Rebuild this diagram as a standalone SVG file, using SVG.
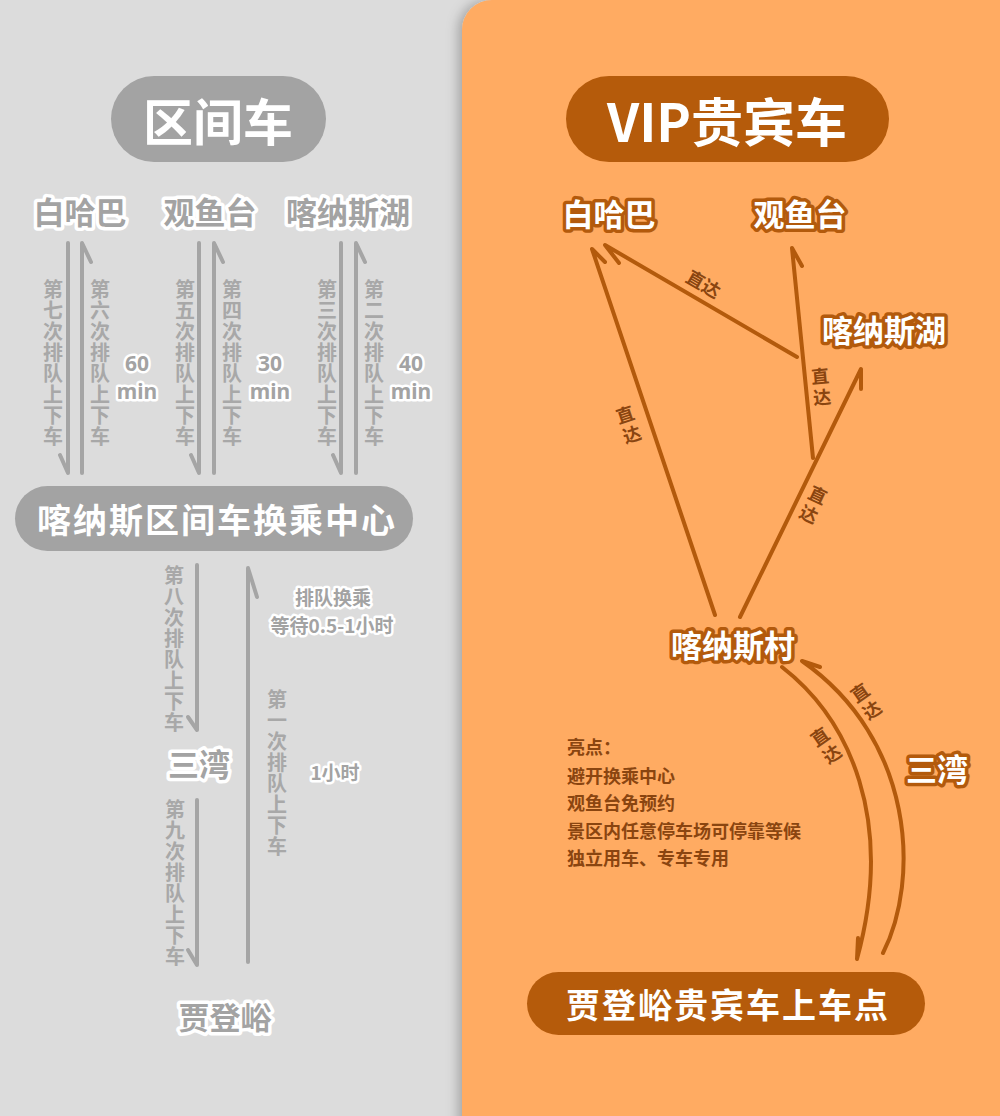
<svg xmlns="http://www.w3.org/2000/svg" width="1000" height="1116" viewBox="0 0 1000 1116">
<defs>
<style>
text{font-family:"Noto Sans CJK SC","Noto Sans",sans-serif;font-weight:bold;}
.gnode{fill:#a3a3a3;stroke:#ffffff;stroke-width:7;paint-order:stroke;stroke-linejoin:round;font-size:31px;text-anchor:middle;dominant-baseline:central;}
.gsmall{fill:#a3a3a3;stroke:#ffffff;stroke-width:5;paint-order:stroke;stroke-linejoin:round;font-size:19px;text-anchor:middle;dominant-baseline:central;}
.gmin{fill:#a3a3a3;stroke:#ffffff;stroke-width:5;paint-order:stroke;stroke-linejoin:round;font-size:21px;text-anchor:middle;dominant-baseline:central;font-family:"Noto Sans","Noto Sans CJK SC",sans-serif;}
.gvert{fill:#a8a8a8;font-size:20px;text-anchor:middle;dominant-baseline:central;}
.onode{fill:#ffffff;stroke:#b35a0c;stroke-width:7;paint-order:stroke;stroke-linejoin:round;font-size:31px;text-anchor:middle;dominant-baseline:central;}
.olab{fill:#8a4510;font-size:18px;text-anchor:middle;dominant-baseline:central;}
.hl{fill:#8a4510;font-size:18px;dominant-baseline:central;}
.pilltxt{fill:#ffffff;text-anchor:middle;dominant-baseline:central;}
.gline{stroke:#a5a5a5;stroke-width:4;fill:none;stroke-linecap:round;stroke-linejoin:round;}
.oline{stroke:#b35a0c;stroke-width:4;fill:none;stroke-linecap:round;stroke-linejoin:round;}
</style>
<filter id="sh" x="-20%" y="-20%" width="140%" height="140%">
<feDropShadow dx="-4" dy="0" stdDeviation="6" flood-color="#000000" flood-opacity="0.25"/>
</filter>
</defs>
<rect x="0" y="0" width="1000" height="1116" fill="#dcdcdc"/>
<rect x="462" y="0" width="600" height="1160" rx="30" fill="#ffab62" filter="url(#sh)"/>

<g id="title-left">
<rect x="111" y="76" width="215" height="86" rx="43" fill="#a3a3a3"/>
<text class="pilltxt" x="218" y="119" font-size="50">区间车</text>
</g>
<g id="title-right">
<rect x="566" y="76" width="323" height="86" rx="43" fill="#b55b0b"/>
<text class="pilltxt" x="727" y="119" font-size="52">VIP贵宾车</text>
</g>

<g id="connectors">
<g id="left-connectors">
<path class="gline" d="M68,243 V473 L60,455"/>
<path class="gline" d="M82,473 V243 L91,262"/>
<path class="gline" d="M199,243 V473 L191,455"/>
<path class="gline" d="M214,473 V243 L223,262"/>
<path class="gline" d="M341,243 V473 L333,455"/>
<path class="gline" d="M356,473 V243 L365,262"/>
<path class="gline" d="M197,565 V730 L188,717"/>
<path class="gline" d="M248,962 V568 L257,597"/>
<path class="gline" d="M197,800 V965 L188,950"/>
</g>
<g id="right-connectors">
<path class="oline" d="M715,615 L592,249 L605,262"/>
<path class="oline" d="M797,357 L605,245 L619,263"/>
<path class="oline" d="M813,458 L792,248 L802,266"/>
<path class="oline" d="M740,617 L861,369 L861,389"/>
<path class="oline" d="M782,667 C850,720 895,820 857,959 L858,938"/>
<path class="oline" d="M883,953 C920,880 915,740 802,661 L820,667"/>
</g>
</g>

<g id="left-labels">
<text class="gvert" x="53 53 53 53 53 53 53 53" y="288 309 330 351 372 393 414 435">第七次排队上下车</text>
<text class="gvert" x="100 100 100 100 100 100 100 100" y="288 309 330 351 372 393 414 435">第六次排队上下车</text>
<text class="gvert" x="185 185 185 185 185 185 185 185" y="288 309 330 351 372 393 414 435">第五次排队上下车</text>
<text class="gvert" x="232 232 232 232 232 232 232 232" y="288 309 330 351 372 393 414 435">第四次排队上下车</text>
<text class="gvert" x="327 327 327 327 327 327 327 327" y="288 309 330 351 372 393 414 435">第三次排队上下车</text>
<text class="gvert" x="374 374 374 374 374 374 374 374" y="288 309 330 351 372 393 414 435">第二次排队上下车</text>
<text class="gvert" x="174 174 174 174 174 174 174 174" y="574 595 616 637 658 679 700 721">第八次排队上下车</text>
<text class="gvert" x="277 277 277 277 277 277 277 277" y="698 719 740 761 782 803 824 845">第一次排队上下车</text>
<text class="gvert" x="175 175 175 175 175 175 175 175" y="808 829 850 871 892 913 934 955">第九次排队上下车</text>
<text class="gmin" x="137" y="363">60</text>
<text class="gmin" x="137" y="391">min</text>
<text class="gmin" x="270" y="363">30</text>
<text class="gmin" x="270" y="391">min</text>
<text class="gmin" x="411" y="363">40</text>
<text class="gmin" x="411" y="391">min</text>
<text class="gsmall" x="333" y="596">排队换乘</text>
<text class="gsmall" x="332" y="624">等待0.5-1小时</text>
<text class="gsmall" x="335" y="771">1小时</text>
</g>

<g id="node-baihaba-l"><text class="gnode" x="80" y="210">白哈巴</text></g>
<g id="node-guanyutai-l"><text class="gnode" x="210" y="210">观鱼台</text></g>
<g id="node-kanashu-l"><text class="gnode" x="348" y="210">喀纳斯湖</text></g>
<g id="node-center">
<rect x="15" y="486" width="398" height="65" rx="32.5" fill="#a3a3a3"/>
<text class="pilltxt" x="217" y="518" font-size="34" letter-spacing="2">喀纳斯区间车换乘中心</text>
</g>
<g id="node-sanwan-l"><text class="gnode" x="199" y="762">三湾</text></g>
<g id="node-jiadengyu-l"><text class="gnode" x="225" y="1015" font-size="30">贾登峪</text></g>

<g id="node-baihaba-r"><text class="onode" x="609" y="212">白哈巴</text></g>
<g id="node-guanyutai-r"><text class="onode" x="800" y="212">观鱼台</text></g>
<g id="node-kanashu-r"><text class="onode" x="884" y="328">喀纳斯湖</text></g>
<g id="node-kanascun"><text class="onode" x="733" y="643">喀纳斯村</text></g>
<g id="node-sanwan-r"><text class="onode" x="937" y="767" font-size="32">三湾</text></g>
<g id="node-jiadengyu-r">
<rect x="527" y="972" width="398" height="63" rx="31.5" fill="#b55b0b"/>
<text class="pilltxt" x="728" y="1003" font-size="34" letter-spacing="2">贾登峪贵宾车上车点</text>
</g>

<g id="right-labels">
<text class="olab" transform="translate(628,423) rotate(-18.5)" x="0 0" y="-10 11">直达</text>
<text class="olab" transform="translate(704,283) rotate(30)" x="0" y="0">直达</text>
<text class="olab" transform="translate(821,385) rotate(-5)" x="0 0" y="-10 11">直达</text>
<text class="olab" transform="translate(814,503) rotate(25)" x="0 0" y="-10 11">直达</text>
<text class="olab" transform="translate(825,744) rotate(-35)" x="0 0" y="-10 11">直达</text>
<text class="olab" transform="translate(865,700) rotate(-35)" x="0 0" y="-10 11">直达</text>
</g>

<g id="highlights">
<text class="hl" x="567" y="746" font-size="19">亮点：</text>
<text class="hl" x="567" y="775">避开换乘中心</text>
<text class="hl" x="567" y="802">观鱼台免预约</text>
<text class="hl" x="567" y="830">景区内任意停车场可停靠等候</text>
<text class="hl" x="567" y="857">独立用车、专车专用</text>
</g>
</svg>
